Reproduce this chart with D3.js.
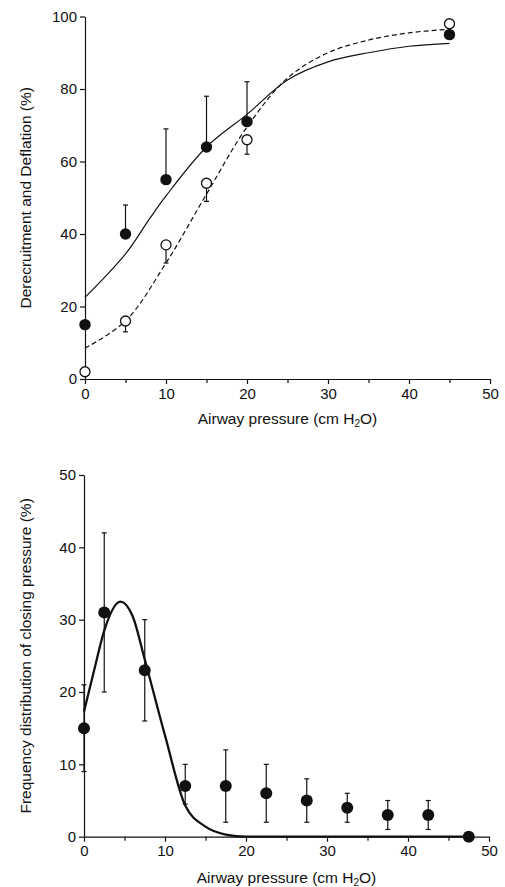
<!DOCTYPE html>
<html>
<head>
<meta charset="utf-8">
<script src="https://cdn.jsdelivr.net/npm/d3@7"></script>
<style>
  body { margin: 0; background: #fff; }
  text { font-family: "Liberation Sans", Arial, sans-serif; fill: #111; }
  .axis path, .axis line { stroke: #111; stroke-width: 1.2; }
  .axis text { font-size: 15px; }
  .title { font-size: 15.5px; }
</style>
</head>
<body>
<svg id="chart" width="505" height="887"></svg>
<script>
// ---- top panel: derecruitment (filled) and deflation (open) ----
const pressures = [0, 5, 10, 15, 20, 45];
const derecruitment = [15, 40, 55, 64, 71, 95];
const derecruitmentHigh = [null, 48, 69, 78, 82, null];
const deflation = [2, 16, 37, 54, 66, 98];
const deflationLow = [null, 13, 32, 49, 62, null];

// fitted curves
const derecruitFitX = [0, 5, 8, 10, 15, 20, 25, 30, 35, 40, 45];
const derecruitFitY = [22.5, 34.5, 44.3, 50.5, 64, 73, 82.5, 87.5, 90, 91.8, 92.6];
const deflationFitX = [0, 5, 10, 15, 20, 25, 30, 35, 40, 45];
const deflationFitY = [8.5, 16, 32, 51, 69.5, 83, 90, 93.5, 95.5, 96.5];

const topTicksY = [0, 20, 40, 60, 80, 100];

// ---- bottom panel: frequency distribution of closing pressure ----
const binCenters = [0, 2.5, 7.5, 12.5, 17.5, 22.5, 27.5, 32.5, 37.5, 42.5, 47.5];
const frequency = [15, 31, 23, 7, 7, 6, 5, 4, 3, 3, 0];
const freqLow = [9, 20, 16, 4.5, 2, 2, 2, 2, 1, 1, null];
const freqHigh = [21, 42, 30, 10, 12, 10, 8, 6, 5, 5, null];

const gaussFitX = [0, 1.25, 2.5, 4.5, 6, 7.5, 10, 12.5, 15, 17.5, 20, 47.5];
const gaussFitY = [17.3, 23, 28.5, 32.5, 30.5, 24.5, 14, 4.3, 1.4, 0.3, 0, 0];

const bottomTicksY = [0, 10, 20, 30, 40, 50];
const ticksX = [0, 10, 20, 30, 40, 50];
const minorTicksX = [5, 15, 25, 35, 45];

const svg = d3.select("#chart");

function drawAxes(g, x, y, yTicks, yTitle, xTitleY) {
    //x axis with minor ticks
    g.append("g")
        .attr("class", "axis")
        .attr("transform", "translate(0," + y.range()[0] + ")")
        .call(d3.axisBottom(x).tickValues(minorTicksX).tickSize(4).tickFormat(""))
        .call(a => a.select(".domain").remove());
    g.append("g")
        .attr("class", "axis")
        .attr("transform", "translate(0," + y.range()[0] + ")")
        .call(d3.axisBottom(x).tickValues(ticksX).tickSize(5).tickSizeOuter(0).tickPadding(4));

    //y axis
    g.append("g")
        .attr("class", "axis")
        .attr("transform", "translate(" + x.range()[0] + ",0)")
        .call(d3.axisLeft(y).tickValues(yTicks).tickSize(5).tickSizeOuter(0).tickPadding(3));

    // x title with subscript
    const xt = g.append("text")
        .attr("class", "title")
        .attr("x", (x.range()[0] + x.range()[1]) / 2)
        .attr("y", xTitleY)
        .attr("text-anchor", "middle");
    xt.append("tspan").text("Airway pressure (cm H");
    xt.append("tspan").attr("baseline-shift", "-25%").style("font-size", "10px").text("2");
    xt.append("tspan").text("O)");

    // y title
    g.append("text")
        .attr("class", "title")
        .attr("transform", "translate(31," + (y.range()[0] + y.range()[1]) / 2 + ") rotate(-90)")
        .attr("text-anchor", "middle")
        .text(yTitle);
}

// error bar with a small cap at the end
function errorBar(g, x, y, xv, from, to) {
    g.append("line")
        .attr("x1", x(xv)).attr("x2", x(xv))
        .attr("y1", y(from)).attr("y2", y(to))
        .attr("stroke", "#111").attr("stroke-width", 1.2);
    g.append("line")
        .attr("x1", x(xv) - 2.5).attr("x2", x(xv) + 2.5)
        .attr("y1", y(to)).attr("y2", y(to))
        .attr("stroke", "#111").attr("stroke-width", 1.2);
}

// top panel
const x1 = d3.scaleLinear().domain([0, 50]).range([85, 490]);
const y1 = d3.scaleLinear().domain([0, 100]).range([379, 16.5]);
const topPanel = svg.append("g");
drawAxes(topPanel, x1, y1, topTicksY, "Derecruitment and Deflation (%)", 424);

const line1 = d3.line().x(d => x1(d[0])).y(d => y1(d[1])).curve(d3.curveCatmullRom.alpha(0.5));

topPanel.append("path")
    .attr("d", line1(d3.zip(derecruitFitX, derecruitFitY)))
    .attr("fill", "none")
    .attr("stroke", "#111")
    .attr("stroke-width", 1.2);

topPanel.append("path")
    .attr("d", line1(d3.zip(deflationFitX, deflationFitY)))
    .attr("fill", "none")
    .attr("stroke", "#111")
    .attr("stroke-width", 1.2)
    .attr("stroke-dasharray", "5,3");

pressures.forEach((p, i) => {
    if (deflationLow[i] !== null) errorBar(topPanel, x1, y1, p, deflation[i], deflationLow[i]);
    if (derecruitmentHigh[i] !== null) errorBar(topPanel, x1, y1, p, derecruitment[i], derecruitmentHigh[i]);
});

// open circles
topPanel.selectAll(".open").data(pressures).enter().append("circle")
    .attr("class", "open")
    .attr("cx", d => x1(d))
    .attr("cy", (d, i) => y1(deflation[i]))
    .attr("r", 5)
    .attr("fill", "#fff")
    .attr("stroke", "#111")
    .attr("stroke-width", 1.3);

// filled circles
topPanel.selectAll(".filled").data(pressures).enter().append("circle")
    .attr("class", "filled")
    .attr("cx", d => x1(d))
    .attr("cy", (d, i) => y1(derecruitment[i]))
    .attr("r", 5.7)
    .attr("fill", "#111");

// bottom panel
const x2 = d3.scaleLinear().domain([0, 50]).range([84, 489]);
const y2 = d3.scaleLinear().domain([0, 50]).range([836.7, 475]);
const bottomPanel = svg.append("g");
drawAxes(bottomPanel, x2, y2, bottomTicksY, "Frequency distribution of closing pressure (%)", 883);

binCenters.forEach((b, i) => {
    if (freqLow[i] !== null) {
        errorBar(bottomPanel, x2, y2, b, frequency[i], freqHigh[i]);
        errorBar(bottomPanel, x2, y2, b, frequency[i], freqLow[i]);
    }
});

const line2 = d3.line().x(d => x2(d[0])).y(d => y2(d[1])).curve(d3.curveMonotoneX);
bottomPanel.append("path")
    .attr("d", line2(d3.zip(gaussFitX, gaussFitY)))
    .attr("fill", "none")
    .attr("stroke", "#111")
    .attr("stroke-width", 2.3);

bottomPanel.selectAll(".freq").data(binCenters).enter().append("circle")
    .attr("class", "freq")
    .attr("cx", d => x2(d))
    .attr("cy", (d, i) => y2(frequency[i]))
    .attr("r", 6)
    .attr("fill", "#111");
</script>
</body>
</html>
